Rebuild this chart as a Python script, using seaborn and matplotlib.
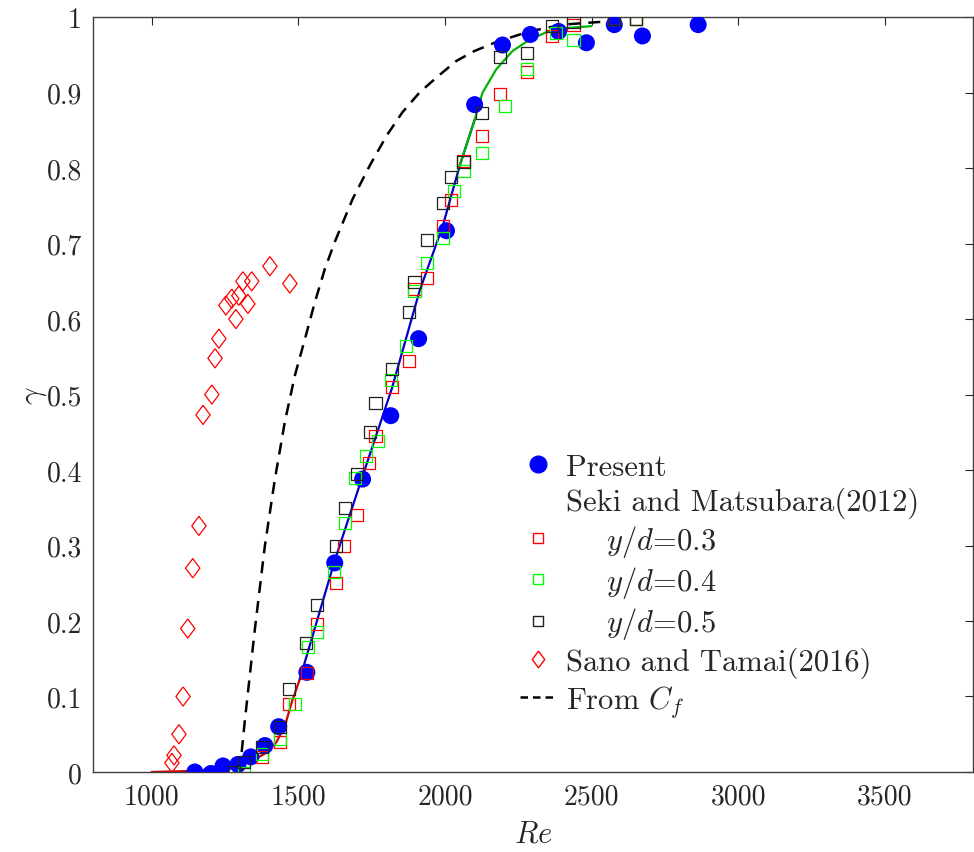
import numpy as np
import pandas as pd
import matplotlib
matplotlib.use('Agg')
import matplotlib.pyplot as plt
from matplotlib.lines import Line2D
import seaborn as sns

# Present (blue filled circles)
present_re = [1147, 1202, 1243, 1294, 1338, 1386, 1433, 1529, 1624, 1719, 1815, 1910,
              2005, 2101, 2196, 2291, 2387, 2482, 2577, 2673, 2863]
present_g = [0.0, -0.002, 0.008, 0.01, 0.02, 0.035, 0.06, 0.132, 0.277, 0.388, 0.472, 0.574,
             0.717, 0.884, 0.963, 0.977, 0.981, 0.966, 0.99, 0.975, 0.99]

# Seki and Matsubara (2012)
seki03_re = [1375, 1437, 1467, 1529, 1563, 1627, 1655, 1699, 1740, 1763, 1818, 1876, 1896,
             1940, 1992, 2022, 2063, 2125, 2189, 2278, 2366, 2438, 2577, 2652]
seki03_g = [0.02, 0.04, 0.09, 0.131, 0.196, 0.25, 0.3, 0.34, 0.409, 0.445, 0.51, 0.544, 0.64,
            0.654, 0.723, 0.758, 0.81, 0.843, 0.898, 0.927, 0.975, 0.99, 0.997, 0.997]
seki04_re = [1314, 1375, 1437, 1488, 1532, 1563, 1620, 1658, 1692, 1729, 1770, 1815, 1866,
             1896, 1940, 1992, 2029, 2063, 2125, 2203, 2281, 2377, 2438, 2577, 2652]
seki04_g = [-0.002, 0.024, 0.044, 0.09, 0.165, 0.185, 0.265, 0.33, 0.39, 0.419, 0.438, 0.519,
            0.564, 0.637, 0.674, 0.708, 0.77, 0.796, 0.82, 0.882, 0.931, 0.979, 0.97, 0.997, 0.997]
seki05_re = [1280, 1314, 1375, 1437, 1467, 1525, 1563, 1627, 1658, 1699, 1743, 1763, 1818,
             1876, 1896, 1937, 1992, 2022, 2063, 2125, 2189, 2278, 2366, 2438, 2577, 2652]
seki05_g = [0.0, 0.013, 0.033, 0.06, 0.11, 0.171, 0.221, 0.3, 0.35, 0.395, 0.45, 0.489, 0.534,
            0.609, 0.649, 0.705, 0.754, 0.788, 0.808, 0.873, 0.947, 0.952, 0.988, 0.993, 0.997, 0.997]

# Sano and Tamai (2016)
sano_re = [1069, 1076, 1093, 1107, 1123, 1140, 1161, 1175, 1205, 1216, 1229, 1253, 1273,
           1287, 1297, 1311, 1328, 1341, 1403, 1471]
sano_g = [0.012, 0.022, 0.05, 0.1, 0.19, 0.27, 0.326, 0.473, 0.5, 0.548, 0.574, 0.618, 0.627,
          0.6, 0.631, 0.65, 0.62, 0.65, 0.67, 0.647]

# fitted curves
red_re = [1000, 1100, 1164, 1277, 1345, 1392, 1426, 1454, 1478, 1505, 1529]
red_g = [0.0, 0.001, 0.002, 0.007, 0.015, 0.026, 0.04, 0.061, 0.093, 0.123, 0.135]
blue_re = [1505, 1624, 1719, 1818, 1913, 1992, 2050, 2101]
blue_g = [0.123, 0.28, 0.392, 0.507, 0.637, 0.723, 0.803, 0.864]
green_re = [2050, 2101, 2128, 2175, 2230, 2288, 2346, 2400, 2499]
green_g = [0.803, 0.864, 0.9, 0.931, 0.955, 0.97, 0.98, 0.985, 0.988]
cf_re = [1300, 1317, 1352, 1386, 1420, 1454, 1488, 1522, 1556, 1590, 1624, 1685, 1743, 1801,
         1855, 1913, 1971, 2039, 2100, 2175, 2288, 2400, 2580]
cf_g = [0.0, 0.066, 0.19, 0.3, 0.388, 0.464, 0.525, 0.573, 0.622, 0.666, 0.702, 0.759, 0.803,
        0.843, 0.874, 0.9, 0.92, 0.942, 0.955, 0.967, 0.981, 0.99, 0.995]

x_ticks = [1000, 1500, 2000, 2500, 3000, 3500]
y_ticks = [0, 0.1, 0.2, 0.3, 0.4, 0.5, 0.6, 0.7, 0.8, 0.9, 1]
y_ticklabels = ['0', '0.1', '0.2', '0.3', '0.4', '0.5', '0.6', '0.7', '0.8', '0.9', '1']

sns.set_theme(style='white')
plt.rcParams['font.family'] = ['cmr10', 'DejaVu Serif']
plt.rcParams['mathtext.fontset'] = 'cm'
plt.rcParams['axes.unicode_minus'] = False
plt.rcParams['axes.formatter.use_mathtext'] = True

fig = plt.figure(figsize=(9.74, 8.53), dpi=100)
ax = fig.add_axes([0.0955, 0.0938, 0.9035, 0.885])

diamond = [(0, 1), (0.75, 0), (0, -1), (-0.75, 0), (0, 1)]
dash = (0, (4.8, 3.2))

sns.lineplot(x=red_re, y=red_g, ax=ax, color='#d40000', lw=1.6, sort=False, estimator=None)
sns.lineplot(x=blue_re, y=blue_g, ax=ax, color='#0000c8', lw=1.6, sort=False, estimator=None)
sns.lineplot(x=green_re, y=green_g, ax=ax, color='#00b400', lw=1.6, sort=False, estimator=None)
sns.lineplot(x=cf_re, y=cf_g, ax=ax, color='black', lw=1.8, sort=False, estimator=None,
             linestyle=dash)

sns.scatterplot(x=present_re, y=present_g, ax=ax, color='#0000ff', s=150, marker='o',
                edgecolor='none', zorder=3)
for xs, ys, c in [(seki03_re, seki03_g, '#ff0000'), (seki04_re, seki04_g, '#00ff00'),
                  (seki05_re, seki05_g, '#222222')]:
    ax.scatter(xs, ys, s=75, marker='s', facecolors='none', edgecolors=c, linewidths=0.9, zorder=4)
ax.scatter(sano_re, sano_g, s=190, marker=diamond, facecolors='none', edgecolors='#ff0000',
           linewidths=0.9, zorder=4)

ax.set_xlim(800, 3800)
ax.set_ylim(0, 1)
ax.set_xticks(x_ticks)
ax.set_xticklabels([str(v) for v in x_ticks])
ax.set_yticks(y_ticks)
ax.set_yticklabels(y_ticklabels)
ax.tick_params(direction='in', length=6, width=0.8, top=True, right=True, labelsize=20,
               colors='#262626', pad=8)
for sp in ax.spines.values():
    sp.set_color('#404040')
    sp.set_linewidth(1.0)
ax.set_xlabel(r'$Re$', fontsize=22, labelpad=8)
ax.set_ylabel(r'$\gamma$', fontsize=22, labelpad=-2)

handles = [
    Line2D([], [], marker='o', color='#0000ff', ls='none', markersize=12),
    Line2D([], [], ls='none', marker=None),
    Line2D([], [], marker='s', mfc='none', mec='#ff0000', ls='none', markersize=7),
    Line2D([], [], marker='s', mfc='none', mec='#00ff00', ls='none', markersize=7),
    Line2D([], [], marker='s', mfc='none', mec='#222222', ls='none', markersize=7),
    Line2D([], [], marker=diamond, mfc='none', mec='#ff0000', ls='none', markersize=12),
    Line2D([], [], color='black', ls=(0, (3, 2)), lw=1.8),
]
labels = ['Present', 'Seki and Matsubara(2012)', r'    $y/d$=0.3', r'    $y/d$=0.4',
          r'    $y/d$=0.5', 'Sano and Tamai(2016)', r'From $C_f$']
ax.legend(handles, labels, loc='upper left', bbox_to_anchor=(0.471, 0.438), frameon=False,
          fontsize=22, handlelength=1.2, handletextpad=0.3, labelspacing=0.17,
          borderaxespad=0)

fig.savefig('out.png', dpi=100)
